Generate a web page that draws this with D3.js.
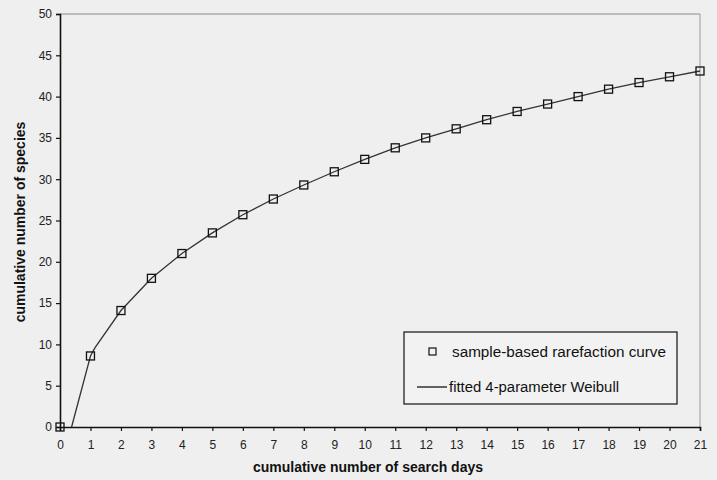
<!DOCTYPE html>
<html>
<head>
<meta charset="utf-8">
<script src="https://cdnjs.cloudflare.com/ajax/libs/d3/7.8.5/d3.min.js"></script>
<style>
  body { margin: 0; background: #efefef; }
  svg { display: block; font-family: Arial, "Liberation Sans", sans-serif; }
</style>
</head>
<body>
<div id="chart"></div>
<script>
// sample-based rarefaction curve (days 0..21)
var days = [0, 1, 2, 3, 4, 5, 6, 7, 8, 9, 10, 11, 12, 13, 14, 15, 16, 17, 18, 19, 20, 21]
var species = [0, 8.6, 14.1, 18.0, 21.0, 23.5, 25.7, 27.6, 29.3, 30.9, 32.4, 33.8, 35.0, 36.1,
  37.2, 38.2, 39.1, 40.0, 40.9, 41.7, 42.4, 43.1]

// fitted 4-parameter Weibull
var fitDays = [0.38, 1, 1.15, 2, 3, 4, 5, 6, 7, 8, 9, 10, 11, 12, 13, 14, 15, 16, 17, 18, 19, 20, 21]
var fitSpecies = [0, 8.6, 9.6, 14.1, 18.0, 21.0, 23.5, 25.7, 27.6, 29.3, 30.9, 32.4, 33.8,
  35.0, 36.1, 37.2, 38.2, 39.1, 40.0, 40.9, 41.7, 42.4, 43.1]

var xTicks = d3.range(0, 22)
var yTicks = [0, 5, 10, 15, 20, 25, 30, 35, 40, 45, 50]

var legendLabels = ['sample-based rarefaction curve', 'fitted 4-parameter Weibull']

var width = 717, height = 480
var margin = {top: 14, right: 17, bottom: 53, left: 60}

var svg = d3.select('#chart').append('svg')
  .attr('width', width)
  .attr('height', height)

svg.append('rect')
  .attr('width', width).attr('height', height)
  .attr('fill', '#efefef')

var x = d3.scaleLinear().domain([0, 21]).range([margin.left, width - margin.right])
var y = d3.scaleLinear().domain([0, 50]).range([height - margin.bottom, margin.top])

// plot frame (top and right are thin grey)
svg.append('line')
  .attr('x1', x(0)).attr('x2', x(21)).attr('y1', y(50)).attr('y2', y(50))
  .attr('stroke', '#8a8a8a').attr('stroke-width', 1)
svg.append('line')
  .attr('x1', x(21)).attr('x2', x(21)).attr('y1', y(50)).attr('y2', y(0))
  .attr('stroke', '#9a9a9a').attr('stroke-width', 1)

// axes
var xAxis = d3.axisBottom(x).tickValues(xTicks).tickSize(4).tickPadding(9)
var yAxis = d3.axisLeft(y).tickValues(yTicks).tickSize(4).tickPadding(4)

var gx = svg.append('g')
  .attr('transform', 'translate(0,' + y(0) + ')')
  .call(xAxis)
var gy = svg.append('g')
  .attr('transform', 'translate(' + x(0) + ',0)')
  .call(yAxis)

;[gx, gy].forEach(function (g) {
  g.select('.domain').attr('stroke', '#111').attr('stroke-width', 1.6)
  g.selectAll('.tick line').attr('stroke', '#111').attr('stroke-width', 1.2)
  g.selectAll('.tick text')
    .attr('fill', '#222')
    .style('font-size', '12px')
    .style('font-family', 'Arial, "Liberation Sans", sans-serif')
})

// axis titles
svg.append('text')
  .attr('x', 368).attr('y', 472)
  .attr('text-anchor', 'middle')
  .attr('font-weight', 'bold')
  .attr('font-size', '14px')
  .attr('fill', '#111')
  .attr('textLength', 230)
  .attr('lengthAdjust', 'spacingAndGlyphs')
  .text('cumulative number of search days')

svg.append('text')
  .attr('transform', 'translate(25,' + 222 + ') rotate(-90)')
  .attr('text-anchor', 'middle')
  .attr('font-weight', 'bold')
  .attr('font-size', '14px')
  .attr('fill', '#111')
  .text('cumulative number of species')

// fitted curve
var fitData = fitDays.map(function (d, i) { return [d, fitSpecies[i]] })
var line = d3.line()
  .x(function (d) { return x(d[0]) })
  .y(function (d) { return y(d[1]) })
  .curve(d3.curveLinear)

svg.append('path')
  .datum(fitData)
  .attr('d', line)
  .attr('fill', 'none')
  .attr('stroke', '#333')
  .attr('stroke-width', 1.3)

// sample markers
var sq = 8
svg.selectAll('rect.pt')
  .data(days.map(function (d, i) { return [d, species[i]] }))
  .enter().append('rect')
  .attr('class', 'pt')
  .attr('x', function (d) { return x(d[0]) - sq / 2 })
  .attr('y', function (d) { return y(d[1]) - sq / 2 })
  .attr('width', sq)
  .attr('height', sq)
  .attr('fill', 'none')
  .attr('stroke', '#111')
  .attr('stroke-width', 1.3)

// legend
var lg = svg.append('g')
lg.append('rect')
  .attr('x', 404).attr('y', 332)
  .attr('width', 273).attr('height', 72)
  .attr('fill', '#f2f2f2')
  .attr('stroke', '#111')
  .attr('stroke-width', 1.2)

lg.append('rect')
  .attr('x', 429).attr('y', 348)
  .attr('width', 7).attr('height', 7)
  .attr('fill', 'none')
  .attr('stroke', '#111')
  .attr('stroke-width', 1.2)

lg.append('line')
  .attr('x1', 417).attr('x2', 447).attr('y1', 387).attr('y2', 387)
  .attr('stroke', '#111').attr('stroke-width', 1.3)

lg.selectAll('text')
  .data(legendLabels)
  .enter().append('text')
  .attr('x', function (d, i) { return i === 0 ? 452 : 449 })
  .attr('y', function (d, i) { return i === 0 ? 357 : 392 })
  .attr('font-size', '14px')
  .attr('fill', '#111')
  .attr('textLength', function (d, i) { return i === 0 ? 214 : 170 })
  .attr('lengthAdjust', 'spacingAndGlyphs')
  .text(function (d) { return d })
</script>
</body>
</html>
